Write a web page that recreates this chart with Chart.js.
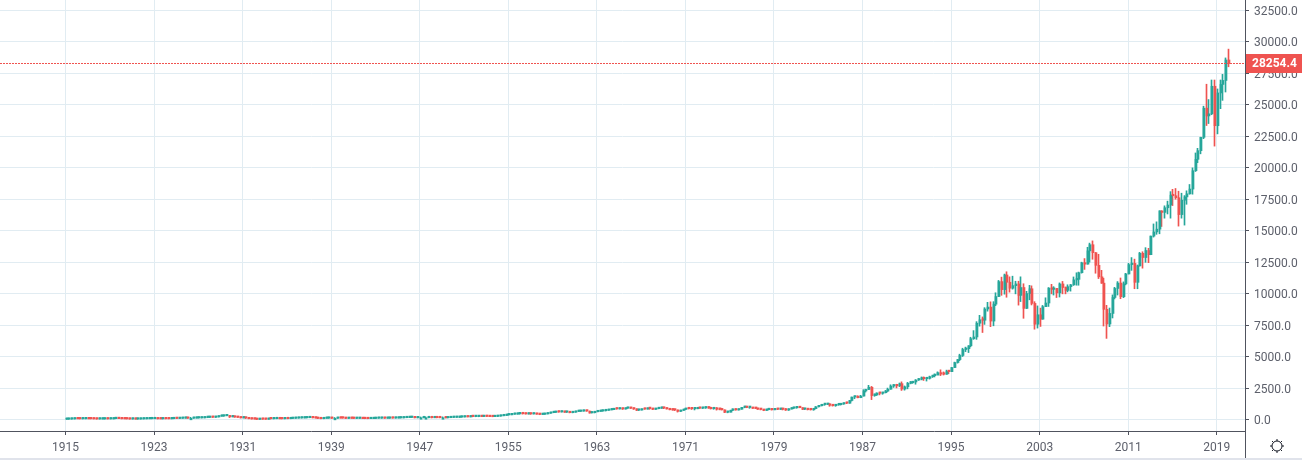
<!DOCTYPE html>
<html>
<head>
<meta charset="utf-8">
<title>Chart</title>
<script src="https://cdn.jsdelivr.net/npm/chart.js@4"></script>
<style>
html, body { margin: 0; padding: 0; background: #ffffff; overflow: hidden; }
canvas { display: block; }
</style>
</head>
<body>
<canvas id="graph" width="1302" height="463"></canvas>
<script>
// quarterly candles, first one is 1915 Q1, 5 years on each line
const firstYear = 1915
const barsPerYear = 4

const opens = [
	55,60,70,80, 99,94,88,91, 95,92,90,83, 74,77,78,84, 82,83,107,111,
	107,92,90,84, 72,76,69,71, 81,87,93,97, 99,102,88,87, 95,92,90,101,
	120,116,129,142, 156,135,135,147, 157,160,166,197, 202,213,210,239, 300,308,333,343,
	248,286,226,204, 165,172,150,96, 78,73,43,71, 60,55,98,94, 100,101,96,92,
	104,100,118,131, 144,156,160,168, 180,187,170,154, 121,99,133,141, 155,131,131,152,
	150,148,122,132, 131,122,123,126, 111,107,103,109, 119,136,139,141, 136,138,148,147,
	152,160,165,181, 193,199,206,172, 177,177,178,178, 181,177,189,178, 177,177,168,182,
	200,206,209,226, 235,248,243,271, 269,270,274,271, 292,280,268,264, 281,304,334,361,
	404,409,451,467, 488,512,493,475, 499,475,503,456, 436,447,478,532, 584,602,644,632,
	679,616,641,580, 616,676,683,701, 731,707,561,579, 652,682,707,733, 763,800,817,875,
	874,889,868,931, 969,924,870,774, 786,865,860,927, 905,840,898,935, 944,935,873,813,
	800,785,683,760, 839,904,891,887, 890,940,929,953, 1020,951,891,947, 851,846,802,607,
	616,768,878,794, 852,999,1003,990, 1005,919,916,847, 831,757,819,866, 805,862,842,878,
	839,785,867,932, 964,1003,977,850, 875,822,811,896, 1046,1130,1222,1233, 1258,1165,1132,1207,
	1211,1266,1335,1328, 1546,1818,1892,1767, 1895,2304,2418,2596, 1938,1988,2141,2112, 2168,2293,2440,2692,
	2753,2707,2880,2452, 2633,2913,2958,3016, 3168,3235,3318,3271, 3301,3435,3516,3555, 3754,3635,3624,3843,
	3834,4157,4556,4789, 5117,5587,5654,5882, 6448,6583,7672,7945, 7908,8799,8952,7842, 9181,9786,10970,10336,
	11497,10921,10447,10650, 10786,9878,10502,8847, 10021,10403,9243,7591, 8341,7992,8985,9275, 10453,10357,10435,10080,
	10783,10503,10274,10568, 10717,11109,11150,11679, 12463,12354,13408,13895, 13264,12262,11350,10850, 8776,7608,8447,9712,
	10428,10856,9774,10788, 11577,12319,12414,10913, 12217,13212,12880,13437, 13104,14578,14909,15129, 16576,16457,16826,17042,
	17823,17776,17619,16284, 17425,17685,17929,18308, 19762,20663,21349,22405, 24719,24103,24271,26458, 23327,25928,26600,26917,
	28538
]

const highs = [
	62,72,82,99, 99,95,93,110, 99,99,93,83, 82,80,85,89, 86,107,112,119,
	104,95,90,85, 77,77,72,81, 88,96,100,103, 105,103,94,96, 101,94,105,120,
	124,130,143,160, 162,145,150,160, 166,172,199,203, 214,220,240,300, 322,333,381,345,
	287,294,245,205, 194,175,156,116, 89,73,80,69, 65,99,108,104, 110,107,97,104,
	108,119,133,148, 161,163,170,184, 194,190,190,154, 132,135,147,158, 155,140,156,155,
	152,149,135,138, 134,124,130,126, 115,110,110,120, 137,145,145,139, 141,149,150,153,
	162,169,182,196, 207,212,208,178, 184,180,186,183, 179,194,190,192, 182,178,183,201,
	208,229,226,236, 256,260,276,276, 276,275,281,293, 294,285,277,284, 305,335,369,405,
	414,452,488,491, 514,522,520,502, 500,510,521,460, 458,478,534,584, 609,648,678,681,
	685,642,641,618, 677,705,726,736, 727,707,615,653, 683,726,746,767, 820,825,875,892,
	900,940,935,970, 1001,951,888,820, 866,910,946,926, 910,914,941,986, 968,968,877,863,
	811,792,774,842, 916,951,921,890, 950,968,973,1036, 1051,960,979,988, 891,870,806,674,
	786,881,881,862, 1004,1011,1014,1005, 1000,944,919,856, 832,862,908,901, 871,880,893,898,
	904,884,973,1000, 1024,1024,977,891, 882,870,906,1070, 1130,1232,1260,1287, 1287,1175,1239,1244,
	1292,1335,1360,1553, 1821,1892,1919,1955, 2405,2440,2747,2662, 2073,2152,2158,2183, 2347,2531,2791,2810,
	2834,2935,3024,2700, 2982,3057,3055,3204, 3290,3414,3413,3333, 3479,3554,3652,3818, 3978,3811,3953,3908,
	4172,4589,4802,5216, 5689,5778,5894,6560, 7085,7796,8299,8171, 8906,9328,9367,9380, 10085,11066,11326,11568,
	11750,11350,11401,11000, 11000,11350,10800,10200, 10673,10635,9379,9044, 8870,9082,9686,10500, 10753,10570,10380,10868,
	10984,10550,10720,10750, 11340,11670,11727,12511, 12796,13692,14022,14198, 13279,13136,11867,11244, 9088,8877,9917,10517,
	10973,11258,10948,11625, 12419,12876,12753,12287, 13289,13338,13661,13610, 14585,15542,15709,16588, 16588,16978,17350,18103,
	18288,18351,18137,17978, 17790,18168,18668,19987, 21169,21535,22420,24876, 26617,25402,26952,26951, 26241,26952,27399,28702,
	29400
]

const lows = [
	54,59,68,78, 90,85,86,90, 88,87,82,66, 74,76,77,79, 80,85,100,104,
	90,88,83,67, 72,64,64,70, 78,86,92,92, 96,86,86,85, 88,88,89,100,
	115,115,129,140, 134,135,135,147, 153,160,165,180, 191,201,205,235, 296,297,335,195,
	244,220,205,155, 157,120,96,73, 70,41,50,55, 50,55,82,84, 96,90,85,90,
	96,99,117,130, 143,150,157,165, 178,165,150,113, 97,98,130,136, 121,121,128,145,
	145,111,120,127, 118,116,125,106, 99,96,103,109, 119,135,136,129, 134,137,143,145,
	150,160,163,180, 186,198,167,163, 163,165,171,170, 165,177,175,171, 170,161,168,182,
	196,206,197,222, 238,243,243,257, 258,257,268,264, 279,262,255,262, 279,302,333,358,
	388,409,454,454, 462,468,468,466, 454,474,456,419, 436,447,478,530, 574,601,616,631,
	600,601,564,566, 610,672,680,700, 689,535,558,558, 646,682,700,711, 763,798,820,857,
	869,840,861,930, 911,841,744,744, 786,847,860,849, 825,835,883,919, 899,870,801,769,
	744,627,669,754, 830,873,839,797, 889,925,910,921, 922,869,851,783, 803,795,584,570,
	632,742,784,784, 858,968,972,924, 918,899,835,800, 736,750,806,790, 807,825,830,796,
	759,759,866,908, 931,967,824,824, 795,788,770,890, 1027,1113,1163,1223, 1086,1101,1086,1163,
	1184,1242,1297,1325, 1502,1686,1755,1766, 1895,2215,2413,1616, 1879,1941,1990,2038, 2144,2258,2439,2583,
	2543,2645,2344,2365, 2470,2865,2906,2836, 3136,3181,3136,3087, 3242,3370,3413,3593, 3520,3564,3624,3674,
	3832,4157,4506,4703, 5032,5420,5346,5800, 6391,6391,7439,6936, 7580,8627,7400,7467, 9063,9786,9884,9975,
	9731,10136,10373,10000, 9106,9389,8062,8836, 9529,9120,7197,7286, 7416,7992,9000,9000, 10000,9906,9708,9749,
	10000,10000,10156,10216, 10667,10684,10683,11640, 11939,12354,12518,12743, 11634,11212,10827,7449, 6470,7400,8087,9600,
	9908,9614,9700,10712, 11577,11862,10405,10404, 12200,12035,12500,12471, 13100,14500,14719,14761, 15340,16000,16333,16000,
	17000,17500,15370,16000, 15450,17100,17900,17900, 19700,20400,21100,22300, 23344,23500,24200,21712, 22680,24680,25339,26000,
	28000
]

const closes = [
	60,70,80,99, 94,88,91,95, 92,90,83,74, 77,78,84,82, 83,107,111,107,
	92,90,84,72, 76,69,71,81, 87,93,97,99, 102,88,87,95, 92,90,101,120,
	116,129,142,156, 135,135,147,157, 160,166,197,202, 213,210,239,300, 308,333,343,248,
	286,226,204,165, 172,150,96,78, 73,43,71,60, 55,98,94,100, 101,96,92,104,
	100,118,131,144, 156,160,168,180, 187,170,154,121, 99,133,141,155, 131,131,152,150,
	148,122,132,131, 122,123,126,111, 107,103,109,119, 136,139,141,136, 138,148,147,152,
	160,165,181,193, 199,206,172,177, 177,178,178,181, 177,189,178,177, 177,168,182,200,
	206,209,226,235, 248,243,271,269, 270,274,271,292, 280,268,264,281, 304,334,361,404,
	409,451,467,488, 512,493,475,499, 475,503,456,436, 447,478,532,584, 602,644,632,679,
	616,641,580,616, 676,683,701,731, 707,561,579,652, 682,707,733,763, 800,817,875,874,
	889,868,931,969, 924,870,774,786, 865,860,927,905, 840,898,935,944, 935,873,813,800,
	785,683,760,839, 904,891,887,890, 940,929,953,1020, 951,891,947,851, 846,802,607,616,
	768,878,794,852, 999,1003,990,1005, 919,916,847,831, 757,819,866,805, 862,842,878,839,
	785,867,932,964, 1003,977,850,875, 822,811,896,1046, 1130,1222,1233,1258, 1165,1132,1207,1211,
	1266,1335,1328,1546, 1818,1892,1767,1895, 2304,2418,2596,1938, 1988,2141,2112,2168, 2293,2440,2692,2753,
	2707,2880,2452,2633, 2913,2958,3016,3168, 3235,3318,3271,3301, 3435,3516,3555,3754, 3635,3624,3843,3834,
	4157,4556,4789,5117, 5587,5654,5882,6448, 6583,7672,7945,7908, 8799,8952,7842,9181, 9786,10970,10336,11497,
	10921,10447,10650,10786, 9878,10502,8847,10021, 10403,9243,7591,8341, 7992,8985,9275,10453, 10357,10435,10080,10783,
	10503,10274,10568,10717, 11109,11150,11679,12463, 12354,13408,13895,13264, 12262,11350,10850,8776, 7608,8447,9712,10428,
	10856,9774,10788,11577, 12319,12414,10913,12217, 13212,12880,13437,13104, 14578,14909,15129,16576, 16457,16826,17042,17823,
	17776,17619,16284,17425, 17685,17929,18308,19762, 20663,21349,22405,24719, 24103,24271,26458,23327, 25928,26600,26917,28538,
	28254.4
]

const yearTicks = [1915, 1923, 1931, 1939, 1947, 1955, 1963, 1971, 1979, 1987, 1995, 2003, 2011, 2019]
const priceTicks = [0, 2500, 5000, 7500, 10000, 12500, 15000, 17500, 20000, 22500, 25000, 27500, 30000, 32500]
const lastPrice = 28254.4

const upColor = '#26a69a'
const downColor = '#ef5350'
const gridColor = '#e1ecf2'
const axisColor = '#50535e'
const textColor = '#5d606b'
const fontFamily = 'Roboto, sans-serif'

let bodies = []
let wicks = []
let colors = []
for (let i = 0; i < closes.length; i++) {
	let x = firstYear + i / barsPerYear
	bodies.push({ x: x, y: [opens[i], closes[i]] })
	wicks.push({ x: x, y: [lows[i], highs[i]] })
	colors.push(closes[i] >= opens[i] ? upColor : downColor)
}

// keep the candles on whole pixels so they stay crisp
const snapBars = {
	id: 'snapBars',
	beforeDatasetsDraw(chart) {
		chart.getDatasetMeta(0).data.forEach(el => { el.x = Math.round(el.x) + 0.5 })
		chart.getDatasetMeta(1).data.forEach(el => { el.x = Math.round(el.x) + 1 })
	}
}

// price line with its label, the bottom border and the settings icon
const overlay = {
	id: 'overlay',
	afterDraw(chart) {
		const c = chart.ctx
		const area = chart.chartArea
		const y = Math.floor(chart.scales.y.getPixelForValue(lastPrice)) + 0.5
		c.save()
		c.strokeStyle = downColor
		c.lineWidth = 1
		c.setLineDash([2, 1])
		c.beginPath()
		c.moveTo(0, y)
		c.lineTo(area.right, y)
		c.stroke()
		c.setLineDash([])

		c.fillStyle = downColor
		c.fillRect(area.right + 1, y - 9.5, 57, 19)
		c.fillStyle = '#ffffff'
		c.font = 'bold 12px ' + fontFamily
		c.textAlign = 'left'
		c.textBaseline = 'middle'
		c.fillText(lastPrice.toFixed(1), area.right + 7, y + 0.5)

		c.strokeStyle = axisColor
		c.beginPath()
		c.moveTo(area.right + 0.5, area.bottom)
		c.lineTo(area.right + 0.5, 458)
		c.stroke()

		c.fillStyle = '#e0e3eb'
		c.fillRect(0, 458, 1302, 2)

		const cx = 1277
		const cy = 446
		c.strokeStyle = '#131722'
		c.beginPath()
		c.arc(cx, cy, 5, 0, Math.PI * 2)
		c.stroke()
		for (let a = 0; a < 8; a++) {
			let t = a * Math.PI / 4
			c.beginPath()
			c.moveTo(cx + Math.cos(t) * 5, cy + Math.sin(t) * 5)
			c.lineTo(cx + Math.cos(t) * 7, cy + Math.sin(t) * 7)
			c.stroke()
		}
		c.restore()
	}
}

new Chart(document.getElementById('graph'), {
	type: 'bar',
	plugins: [snapBars, overlay],
	data: {
		datasets: [{
			label: 'Wicks',
			data: wicks,
			backgroundColor: colors,
			barThickness: 1,
			minBarLength: 1,
			grouped: false,
			order: 2
		}, {
			label: 'Bodies',
			data: bodies,
			backgroundColor: colors,
			barThickness: 2,
			minBarLength: 1.5,
			grouped: false,
			order: 1
		}]
	},
	options: {
		responsive: false,
		animation: false,
		layout: { padding: 0 },
		plugins: {
			legend: { display: false },
			tooltip: { enabled: false }
		},
		scales: {
			x: {
				type: 'linear',
				offset: false,
				min: 1909.08,
				max: 2021.55,
				afterFit(scale) {
					scale.height = 32
					scale.paddingLeft = 0
					scale.paddingRight = 0
				},
				afterBuildTicks(scale) { scale.ticks = yearTicks.map(v => ({ value: v })) },
				grid: { color: gridColor, tickColor: axisColor, tickLength: 4, offset: false },
				border: { color: axisColor },
				ticks: {
					autoSkip: false,
					maxRotation: 0,
					padding: 6,
					color: textColor,
					font: { family: fontFamily, size: 12 },
					callback: v => String(v)
				}
			},
			y: {
				position: 'right',
				min: -872,
				max: 33294,
				afterFit(scale) {
					scale.width = 57
					scale.paddingTop = 0
					scale.paddingBottom = 0
				},
				afterBuildTicks(scale) { scale.ticks = priceTicks.map(v => ({ value: v })) },
				grid: { color: gridColor, tickColor: axisColor, tickLength: 4 },
				border: { color: axisColor },
				ticks: {
					autoSkip: false,
					padding: 5,
					labelOffset: 1.5,
					color: textColor,
					font: { family: fontFamily, size: 12 },
					callback: v => v.toFixed(1)
				}
			}
		}
	}
})
</script>
</body>
</html>
